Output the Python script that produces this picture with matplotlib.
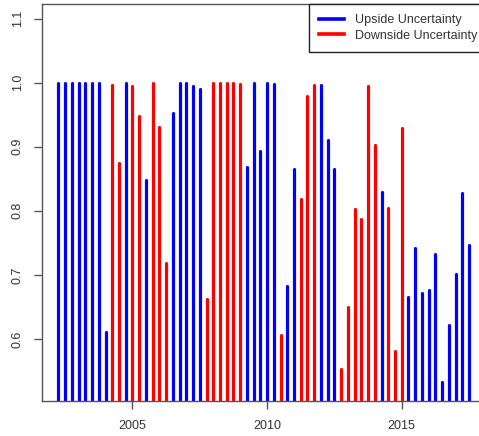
import numpy as np
import matplotlib
matplotlib.use("Agg")
import matplotlib.pyplot as plt
from matplotlib.lines import Line2D

plt.rcParams["font.family"] = ["Liberation Sans", "DejaVu Sans"]

# quarterly observations, 2002 Q2 .. 2017 Q3
start_year = 2002.25
n_quarters = 62

values = [
    1.0, 1.0, 1.0, 1.0, 1.0, 1.0, 1.0, 0.611, 0.997, 0.875,
    0.999, 0.995, 0.948, 0.848, 1.0, 0.931, 0.718, 0.953, 0.999, 1.0,
    0.995, 0.991, 0.662, 1.0, 1.0, 1.0, 1.0, 0.998, 0.869, 1.0,
    0.894, 1.0, 0.998, 0.606, 0.683, 0.866, 0.818, 0.980, 0.996, 0.996,
    0.910, 0.865, 0.553, 0.650, 0.803, 0.788, 0.995, 0.903, 0.829, 0.805,
    0.581, 0.929, 0.665, 0.742, 0.672, 0.676, 0.733, 0.533, 0.622, 0.701,
    0.828, 0.747,
]

# U = upside uncertainty, D = downside uncertainty
direction = list(
    "UUUUUUUU" "DDUDDUDDDUUUUUD" "DDDDDUUUUUDUUDDDUUU" "DDDDDDUDDD" "UUUUUUUUUU"
)

quarters = start_year + np.arange(n_quarters) * 0.25
values = np.array(values)
is_up = np.array([d == "U" for d in direction])

fig = plt.figure(figsize=(4.79, 4.36), dpi=100)
ax = fig.add_axes([42 / 479, 35 / 436, 443.7 / 479, 397 / 436])

lc1 = ax.vlines(quarters[is_up], 0, values[is_up], colors="#0000FF", linewidth=2.3)
lc2 = ax.vlines(quarters[~is_up], 0, values[~is_up], colors="#FF0000", linewidth=2.3)
for lc in (lc1, lc2):
    lc.set_capstyle("round")

ax.set_xlim(2001.64, 2018.12)
ax.set_ylim(0.503, 1.123)
ax.set_xticks([2005, 2010, 2015])
ax.set_yticks([0.6, 0.7, 0.8, 0.9, 1.0, 1.1])
ax.set_yticklabels(["0.6", "0.7", "0.8", "0.9", "1.0", "1.1"])

for s in ax.spines.values():
    s.set_color("#555555")
    s.set_linewidth(1.0)
ax.tick_params(length=6, width=1, color="#555555", labelcolor="#333333",
               labelsize=9)
ax.tick_params(axis="x", pad=7.5)
ax.tick_params(axis="y", pad=7)
for lab in ax.get_yticklabels():
    lab.set_rotation(90)
    lab.set_va("center")

handles = [Line2D([], [], color="#0000FF", lw=2.6),
           Line2D([], [], color="#FF0000", lw=2.6)]
leg = ax.legend(handles, ["Upside Uncertainty", "Downside Uncertainty"],
                loc="upper right", bbox_to_anchor=(1 + 2 / 443.7, 1.0),
                borderaxespad=0, fontsize=9,
                handlelength=2.0, handletextpad=0.9, borderpad=0.8,
                labelspacing=0.3, fancybox=False, framealpha=1,
                edgecolor="#222222")
leg.get_frame().set_linewidth(1.0)
for t in leg.get_texts():
    t.set_color("#333333")

plt.savefig("out.png", dpi=100)
